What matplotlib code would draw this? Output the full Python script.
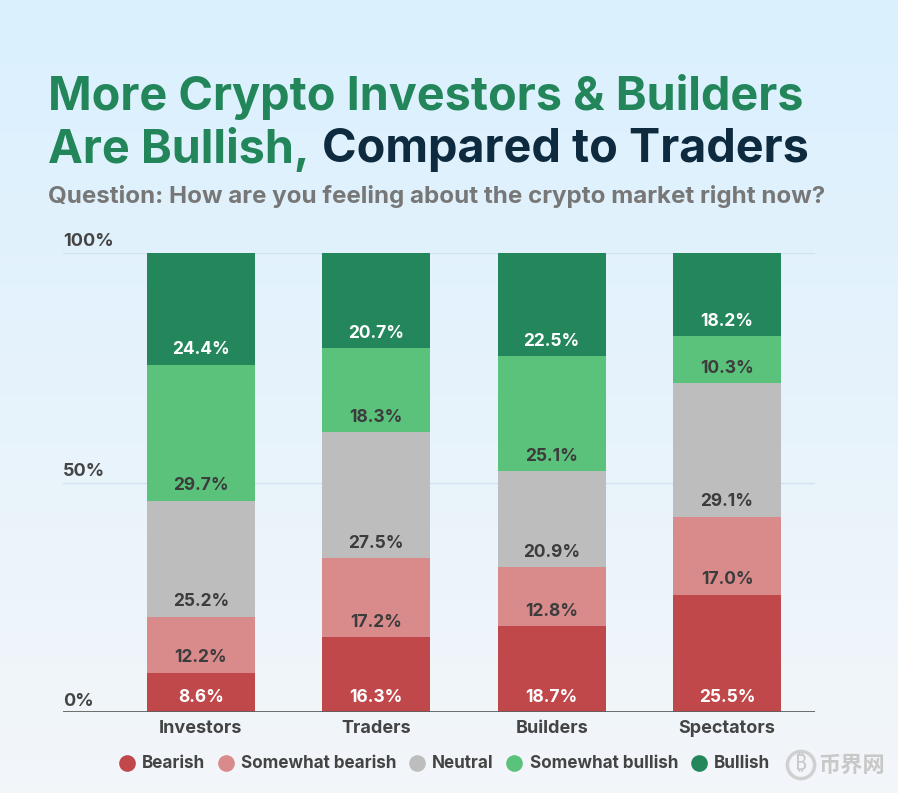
import numpy as np
import matplotlib.pyplot as plt
from matplotlib import transforms
from matplotlib.lines import Line2D

plt.rcParams['font.family'] = ['Inter', 'DejaVu Sans']

groups = ['Investors', 'Traders', 'Builders', 'Spectators']
sentiments = ['Bearish', 'Somewhat bearish', 'Neutral', 'Somewhat bullish', 'Bullish']
bearish = [8.6, 16.3, 18.7, 25.5]
somewhat_bearish = [12.2, 17.2, 12.8, 17.0]
neutral = [25.2, 27.5, 20.9, 29.1]
somewhat_bullish = [29.7, 18.3, 25.1, 10.3]
bullish = [24.4, 20.7, 22.5, 18.2]
series = [bearish, somewhat_bearish, neutral, somewhat_bullish, bullish]

colors = ['#C0474A', '#D98A8B', '#BDBDBD', '#5BC27C', '#24875B']
label_colors = ['white', '#3C3C3C', '#3C3C3C', '#3C3C3C', 'white']

W, H = 898, 793
fig = plt.figure(figsize=(W / 100, H / 100), dpi=100)

# gradient background
bg = fig.add_axes([0, 0, 1, 1], zorder=-10)
top = np.array([0xDA, 0xF0, 0xFE]) / 255
bot = np.array([0xF3, 0xF6, 0xF9]) / 255
t = np.linspace(0, 1, 256)[:, None]
grad = (top * (1 - t) + bot * t)[:, None, :]
bg.imshow(grad, aspect='auto', extent=[0, 1, 0, 1])
bg.axis('off')

# plot area in pixel coords: x 63..815, y 253..712
ax = fig.add_axes([63 / W, 1 - 712 / H, (815 - 63) / W, (712 - 253) / H])
ax.set_facecolor('none')
x = np.arange(len(groups))
width = 0.615
bottom = np.zeros(len(groups))
for vals, col, lcol in zip(series, colors, label_colors):
    vals = np.array(vals)
    ax.bar(x, vals, width, bottom=bottom, color=col, zorder=3)
    for xi, b, v in zip(x, bottom, vals):
        ax.annotate(f'{v:.1f}%', (xi, b), xytext=(0, 15), textcoords='offset pixels',
                    ha='center', va='center', fontsize=12.5, fontweight='bold',
                    color=lcol, zorder=4)
    bottom += vals

ax.set_xlim(-0.786, 3.501)
ax.set_ylim(0, 100)
for s in ax.spines.values():
    s.set_visible(False)
ax.set_yticks([])
ax.set_xticks(x)
ax.set_xticklabels(groups, fontsize=13, fontweight='bold', color='#444444')
ax.tick_params(axis='x', length=0, pad=6)
for yv in [50, 100]:
    ax.axhline(yv, color='#D3E2EE', lw=1, zorder=1)
ax.axhline(0, color='#5F5F5F', lw=2, zorder=5)

trans = transforms.blended_transform_factory(ax.transAxes, ax.transData)
for yv, lab in [(0, '0%'), (50, '50%'), (100, '100%')]:
    ax.annotate(lab, (0, yv), xycoords=trans, xytext=(0, 11), textcoords='offset pixels',
                ha='left', va='center', fontsize=13, fontweight='bold', color='#444444')

# titles
green = '#23855A'
navy = '#0E2A3F'
fig.text(48 / W, 1 - 97 / H, 'More Crypto Investors & Builders', fontsize=33.7,
         fontweight='bold', color=green, ha='left', va='center')
t1 = fig.text(48 / W, 1 - 150 / H, 'Are Bullish,', fontsize=33.7,
              fontweight='bold', color=green, ha='left', va='center')
r = fig.canvas.get_renderer()
bb = t1.get_window_extent(renderer=r)
fig.text((bb.x1 + 13) / W, 1 - 150 / H, 'Compared to Traders', fontsize=33.7,
         fontweight='bold', color=navy, ha='left', va='center')
fig.text(48 / W, 1 - 196 / H, 'Question: How are you feeling about the crypto market right now?',
         fontsize=17.4, fontweight='bold', color='#777777', ha='left', va='center')

# legend
handles = [Line2D([], [], marker='o', ls='none', markersize=12, markerfacecolor=c,
                  markeredgecolor='none') for c in colors]
fig.legend(handles, sentiments, loc='center', bbox_to_anchor=(445 / W, 1 - 764 / H),
           ncol=5, frameon=False, prop={'weight': 'bold', 'size': 12.3},
           handlelength=0.8, handletextpad=0.5, columnspacing=0.8, labelcolor='#444444')

# watermark
fig.text(801 / W, 1 - 765 / H, '\u20bf', fontsize=15, color='#C8C8C8', ha='center', va='center',
         family=['Noto Sans', 'DejaVu Sans', 'Liberation Sans'],
         bbox=dict(boxstyle='circle,pad=0.15', fc='none', ec='#D0D0D0', lw=2.5))
fig.text(818 / W, 1 - 765 / H, '币界网', fontsize=16, fontweight='bold', color='#C8C8C8',
         ha='left', va='center', family=['Noto Sans CJK SC', 'DejaVu Sans'])

fig.savefig('out.png', dpi=100)
